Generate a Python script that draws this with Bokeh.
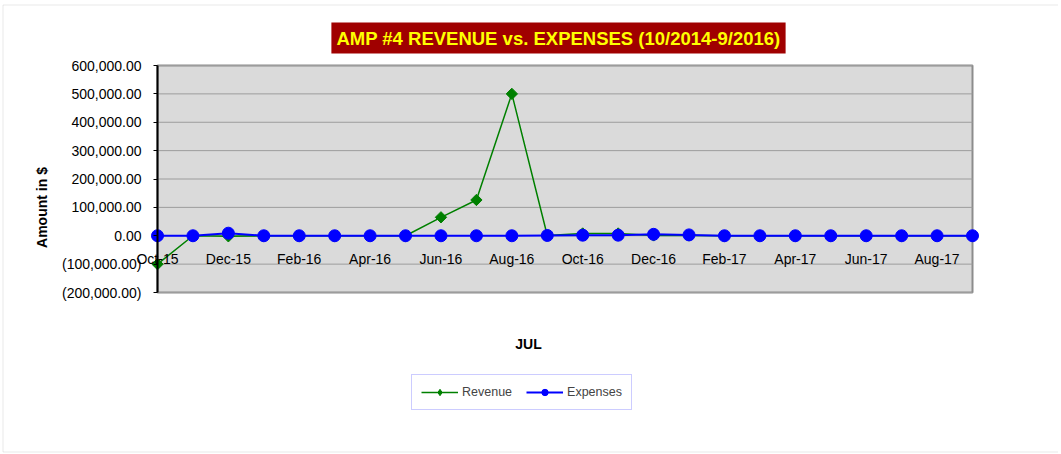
import math
from bokeh.plotting import figure
from bokeh.models import (Range1d, FixedTicker, Label, Legend, LegendItem, ColumnDataSource,
                          LinearAxis, BoxAnnotation)
from bokeh.embed import file_html
from bokeh.resources import INLINE

# ---- data ----
months = ["Oct-15", "Nov-15", "Dec-15", "Jan-16", "Feb-16", "Mar-16", "Apr-16", "May-16",
          "Jun-16", "Jul-16", "Aug-16", "Sep-16", "Oct-16", "Nov-16", "Dec-16", "Jan-17",
          "Feb-17", "Mar-17", "Apr-17", "May-17", "Jun-17", "Jul-17", "Aug-17", "Sep-17"]
revenue = [-100000, 0, -2000, 0, 0, 0, 0, 0,
           65000, 126000, 500000, 1000, 8000, 8000, 1000, 1000,
           0, 0, 0, 0, 0, 0, 0, 0]
expenses = [0, 0, 9000, 0, 0, 0, 0, 0,
            0, 0, 0, 1000, 2000, 2000, 5000, 3000,
            0, 0, 0, 0, 0, 0, 0, 0]
y_ticks = [-200000, -100000, 0, 100000, 200000, 300000, 400000, 500000, 600000]
y_tick_labels = ["(200,000.00)", "(100,000.00)", "0.00", "100,000.00", "200,000.00",
                 "300,000.00", "400,000.00", "500,000.00", "600,000.00"]
x_tick_idx = list(range(0, len(months), 2))
title_text = "AMP #4 REVENUE vs. EXPENSES (10/2014-9/2016)"
y_title = "Amount in $"
x_title = "JUL"
series_names = ["Revenue", "Expenses"]

FONT = "Liberation Sans"

# ---- layout (pixels) ----
W, H = 1058, 453
PX_L, PX_R, PX_T, PX_B = 157, 972, 65, 292   # plot-area edges

n = len(months)
ymin, ymax = y_ticks[0], y_ticks[-1]
sx = (n - 1) / (PX_R - PX_L)
sy = (ymax - ymin) / (PX_B - PX_T)
x_range = Range1d(0 - PX_L * sx, (n - 1) + (W - PX_R) * sx)
y_range = Range1d(ymin - (H - PX_B) * sy, ymax + PX_T * sy)


def dx(px):
    return x_range.start + px * sx


def dy(py):
    return y_range.end - py * sy


p = figure(width=W, height=H, x_range=x_range, y_range=y_range,
           x_axis_type=None, y_axis_type=None, min_border=0,
           output_backend="svg", toolbar_location=None,
           background_fill_color="white", border_fill_color="white",
           outline_line_color=None)

# plot area background + frame
p.quad(left=[0], right=[n - 1], bottom=[ymin], top=[ymax],
       fill_color="#dadada", line_color="#8c8c8c", line_width=2)
# horizontal grid lines
p.segment(x0=[0] * len(y_ticks), x1=[n - 1] * len(y_ticks), y0=y_ticks, y1=y_ticks,
          line_color="#9c9c9c", line_width=1)

# y axis (at first category)
yax = LinearAxis(fixed_location=0, bounds=(ymin, ymax), ticker=FixedTicker(ticks=y_ticks),
                 major_label_overrides={t: l for t, l in zip(y_ticks, y_tick_labels)},
                 major_label_text_font=FONT, major_label_text_font_size="14px",
                 major_label_text_color="black", axis_line_color="black", axis_line_width=2,
                 major_tick_line_color="black", major_tick_out=4, major_tick_in=0,
                 minor_tick_line_color=None, major_label_standoff=12)
p.add_layout(yax, "left")

# x axis at y = 0
xax = LinearAxis(fixed_location=0, bounds=(0, n - 1), ticker=FixedTicker(ticks=x_tick_idx),
                 major_label_overrides={i: months[i] for i in x_tick_idx},
                 major_label_text_font=FONT, major_label_text_font_size="14px",
                 major_label_text_color="black", axis_line_color=None,
                 major_tick_line_color=None, minor_tick_line_color=None,
                 major_label_standoff=9)
p.add_layout(xax, "below")

src = ColumnDataSource(dict(x=list(range(n)), revenue=revenue, expenses=expenses))

r_line = p.line("x", "revenue", source=src, line_color="#008000", line_width=1.5)
p.scatter("x", "revenue", source=src, marker="square", angle=math.pi / 4, size=8,
          fill_color="#008000", line_color="#008000")
e_line = p.line("x", "expenses", source=src, line_color="#0000ff", line_width=2)
p.scatter("x", "expenses", source=src, marker="circle", size=12,
          fill_color="#0000ff", line_color="#0000ff")

# smaller markers used only for the legend swatches (no visible data)
nan_src = ColumnDataSource(dict(x=[float("nan")], y=[float("nan")]))
r_leg = p.scatter("x", "y", source=nan_src, marker="diamond", size=8,
                  fill_color="#008000", line_color="#008000")
e_leg = p.scatter("x", "y", source=nan_src, marker="circle", size=7,
                  fill_color="#0000ff", line_color="#0000ff")

legend = Legend(items=[LegendItem(label=series_names[0], renderers=[r_line, r_leg], index=0),
                       LegendItem(label=series_names[1], renderers=[e_line, e_leg], index=0)],
                orientation="horizontal", location=(411, H - 410),
                border_line_color="#9999ff", border_line_width=1,
                background_fill_color="white", background_fill_alpha=1,
                label_text_font=FONT, label_text_font_size="12.5px",
                glyph_width=37, glyph_height=16, label_standoff=4, spacing=14,
                padding=9, margin=0)
p.add_layout(legend, "center")

# title box
p.add_layout(Label(x=dx(558), y=dy(37.5), text=title_text, text_align="center",
                   text_baseline="middle", text_color="#ffff00", text_font=FONT,
                   text_font_size="18.5px", text_font_style="bold",
                   background_fill_color="#a00000", padding=5))
# axis titles
p.add_layout(Label(x=dx(41), y=dy(207), text=y_title, angle=math.pi / 2, text_align="center",
                   text_baseline="middle", text_color="black", text_font=FONT,
                   text_font_size="14px", text_font_style="bold"))
p.add_layout(Label(x=dx(528), y=dy(343), text=x_title, text_align="center",
                   text_baseline="middle", text_color="black", text_font=FONT,
                   text_font_size="14px", text_font_style="bold"))

# outer chart border
p.add_layout(BoxAnnotation(left=dx(2.5), right=dx(W + 20), top=dy(4.5), bottom=dy(451.5),
                           fill_alpha=0, line_color="#b4b4b4", line_width=1))

open("out.html", "w").write(file_html(p, INLINE))
